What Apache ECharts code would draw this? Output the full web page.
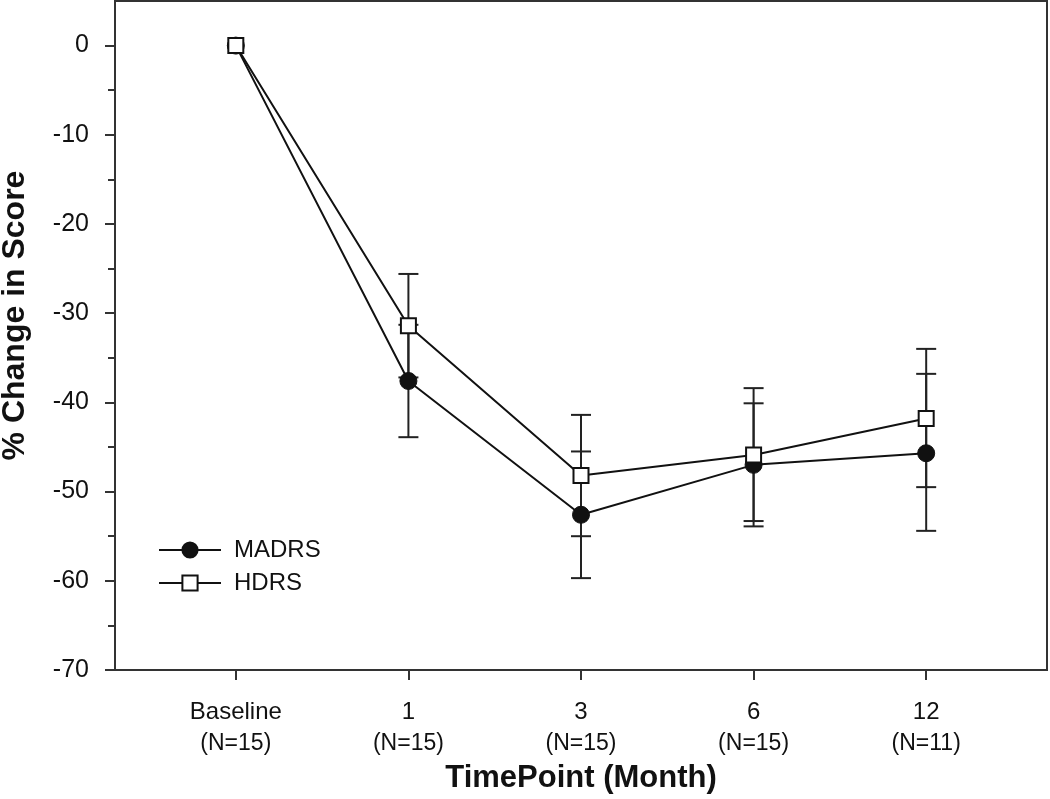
<!DOCTYPE html>
<html>
<head>
<meta charset="utf-8">
<script src="https://cdn.jsdelivr.net/npm/echarts@6/dist/echarts.min.js"></script>
<style>html,body{margin:0;padding:0;background:#fff}#c{width:1050px;height:799px}</style>
</head>
<body>
<div id="c"></div>
<script>
// ---- data ----
const timepoints = ['Baseline', '1', '3', '6', '12'];
const nLabels = ['(N=15)', '(N=15)', '(N=15)', '(N=15)', '(N=11)'];
const madrs = [0, -37.6, -52.6, -47.0, -45.7];
const madrsUpper = [0, -31.3, -45.5, -40.1, -36.8];
const madrsLower = [0, -43.9, -59.7, -53.9, -54.4];
const hdrs = [0, -31.4, -48.2, -45.9, -41.8];
const hdrsUpper = [0, -25.6, -41.4, -38.4, -34.0];
const hdrsLower = [0, -37.2, -55.0, -53.3, -49.5];
const yMajorTicks = [0, -10, -20, -30, -40, -50, -60, -70];
const yMinorTicks = [-5, -15, -25, -35, -45, -55, -65];

const xIdx = timepoints.map((_, i) => i);
const FONT = '"Liberation Sans", Arial, Helvetica, sans-serif';

function errData(lo, hi) {
  const out = [];
  for (let i = 1; i < xIdx.length; i++) out.push([xIdx[i], lo[i], hi[i]]);
  return out;
}
function renderErr(params, api) {
  const x = api.value(0);
  const a = api.coord([x, api.value(1)]);
  const b = api.coord([x, api.value(2)]);
  const hw = 10;
  const st = { stroke: '#222', lineWidth: 2 };
  return {
    type: 'group',
    children: [
      { type: 'line', shape: { x1: a[0], y1: a[1], x2: b[0], y2: b[1] }, style: st },
      { type: 'line', shape: { x1: a[0] - hw, y1: a[1], x2: a[0] + hw, y2: a[1] }, style: st },
      { type: 'line', shape: { x1: b[0] - hw, y1: b[1], x2: b[0] + hw, y2: b[1] }, style: st }
    ]
  };
}

const chart = echarts.init(document.getElementById('c'), null, { renderer: 'canvas' });
chart.setOption({
  animation: false,
  backgroundColor: '#fff',
  textStyle: { fontFamily: FONT },
  grid: { left: 115, right: 3, top: 1, bottom: 129, outerBoundsMode: 'none', containLabel: false, show: true, borderColor: '#333', borderWidth: 2, backgroundColor: 'transparent' },
  legend: {
    orient: 'vertical', left: 153, top: 533,
    itemWidth: 62, itemHeight: 19, itemGap: 9,
    textStyle: { fontSize: 24, color: '#111', fontFamily: FONT, padding: [0, 0, 0, 8] },
    data: ['MADRS', 'HDRS']
  },
  xAxis: {
    type: 'value', min: -0.7, max: 4.7,
    axisLine: { show: true, onZero: false, lineStyle: { color: '#333', width: 2 } },
    splitLine: { show: false },
    axisTick: { show: true, customValues: xIdx, length: 10, lineStyle: { color: '#333', width: 2 } },
    axisLabel: {
      customValues: xIdx, margin: 26, color: '#111',
      formatter: v => '{a|' + timepoints[Math.round(v)] + '}\n{b|' + nLabels[Math.round(v)] + '}',
      rich: {
        a: { fontSize: 24, lineHeight: 32, fontFamily: FONT, color: '#111' },
        b: { fontSize: 23, lineHeight: 32, fontFamily: FONT, color: '#111' }
      }
    },
    name: 'TimePoint (Month)', nameLocation: 'middle', nameGap: 93,
    nameTextStyle: { fontSize: 31, fontWeight: 'bold', color: '#111', fontFamily: FONT }
  },
  yAxis: [{
    type: 'value', min: -70, max: 5,
    axisLine: { show: true, onZero: false, lineStyle: { color: '#333', width: 2 } },
    splitLine: { show: false },
    axisTick: { show: true, customValues: yMajorTicks, length: 10, lineStyle: { color: '#333', width: 2 } },
    axisLabel: { customValues: yMajorTicks, margin: 26, fontSize: 25, color: '#111', fontFamily: FONT },
    name: '% Change in Score', nameLocation: 'middle', nameGap: 84,
    nameTextStyle: { fontSize: 32, fontWeight: 'bold', color: '#111', fontFamily: FONT, padding: [0, 0, 0, 40] }
  }, {
    type: 'value', min: -70, max: 5, position: 'left',
    axisLine: { show: false, onZero: false },
    splitLine: { show: false },
    axisTick: { show: true, customValues: yMinorTicks, length: 7, lineStyle: { color: '#333', width: 2 } },
    axisLabel: { show: false }
  }],
  series: [
    { type: 'custom', name: 'madrsErr', renderItem: renderErr, data: errData(madrsLower, madrsUpper), encode: { x: 0, y: [1, 2] }, z: 1, silent: true },
    { type: 'custom', name: 'hdrsErr', renderItem: renderErr, data: errData(hdrsLower, hdrsUpper), encode: { x: 0, y: [1, 2] }, z: 1, silent: true },
    {
      type: 'line', name: 'MADRS', z: 3,
      data: xIdx.map((x, i) => [x, madrs[i]]),
      symbol: 'circle', symbolSize: 17,
      lineStyle: { color: '#111', width: 2 },
      itemStyle: { color: '#111', borderColor: '#111', borderWidth: 1 }
    },
    {
      type: 'line', name: 'HDRS', z: 4,
      data: xIdx.map((x, i) => [x, hdrs[i]]),
      symbol: 'rect', symbolSize: 15,
      lineStyle: { color: '#111', width: 2 },
      itemStyle: { color: '#fff', borderColor: '#111', borderWidth: 2 }
    }
  ]
});
</script>
</body>
</html>
